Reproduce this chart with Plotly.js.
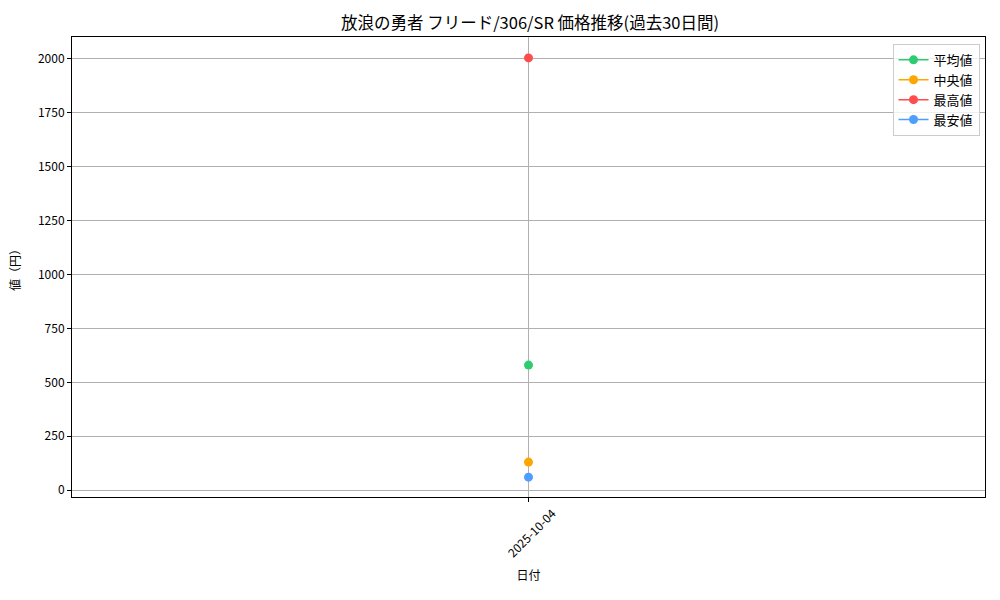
<!DOCTYPE html>
<html>
<head>
<meta charset="utf-8">
<script src="https://cdn.plot.ly/plotly-3.0.1.min.js"></script>
<style>
  body { margin: 0; background: #fff; }
  #chart { width: 1000px; height: 600px; }
</style>
</head>
<body>
<div id="chart"></div>
<script>
// data
var dates = ["2025-10-04"];
var avgPrice = [580];
var medianPrice = [130];
var maxPrice = [2005];
var minPrice = [60];

var seriesNames = ["平均値", "中央値", "最高値", "最安値"];
var seriesColors = ["#2ecc71", "#ffa500", "#ff4d4d", "#4d9eff"];
var seriesValues = [avgPrice, medianPrice, maxPrice, minPrice];

var font = "'Noto Sans CJK JP', 'DejaVu Sans', sans-serif";

var traces = [];
for (var i = 0; i < seriesNames.length; i++) {
    traces.push({
        x: dates,
        y: seriesValues[i],
        type: 'scatter',
        mode: 'lines+markers',
        name: seriesNames[i],
        line: {color: seriesColors[i], width: 1.5},
        marker: {color: seriesColors[i], size: 9}
    });
}

var layout = {
    width: 1000,
    height: 600,
    paper_bgcolor: '#fff',
    plot_bgcolor: '#fff',
    font: {family: font, size: 12, color: '#000'},
    margin: {l: 72, r: 15, t: 37, b: 103},
    title: {
        text: '放浪の勇者 フリード/306/SR 価格推移(過去30日間)',
        font: {family: font, size: 16.5, color: '#000'},
        x: 0.53, xanchor: 'center', y: 0.962, yanchor: 'middle'
    },
    xaxis: {
        type: 'category',
        range: [-1, 1],
        title: {text: '日付', font: {size: 12}, standoff: 12},
        tickangle: -45,
        ticklabelshift: 24,
        ticks: 'outside', ticklen: 4, tickcolor: '#000',
        showgrid: true, gridcolor: '#b0b0b0', gridwidth: 1,
        showline: true, linecolor: '#000', linewidth: 1, mirror: true,
        zeroline: false
    },
    yaxis: {
        range: [-32, 2102],
        tickvals: [0, 250, 500, 750, 1000, 1250, 1500, 1750, 2000],
        title: {text: '値（円）', font: {size: 12}, standoff: 14},
        ticks: 'outside', ticklen: 4, tickcolor: '#000',
        showgrid: true, gridcolor: '#b0b0b0', gridwidth: 1,
        showline: true, linecolor: '#000', linewidth: 1, mirror: true,
        zeroline: false
    },
    legend: {
        x: 0.994, y: 0.985, xanchor: 'right', yanchor: 'top',
        bgcolor: 'rgba(255,255,255,0.8)',
        bordercolor: '#cccccc', borderwidth: 1,
        font: {size: 13},
        tracegroupgap: 0
    },
    showlegend: true
};

Plotly.newPlot('chart', traces, layout, {displayModeBar: false, staticPlot: true});
</script>
</body>
</html>
